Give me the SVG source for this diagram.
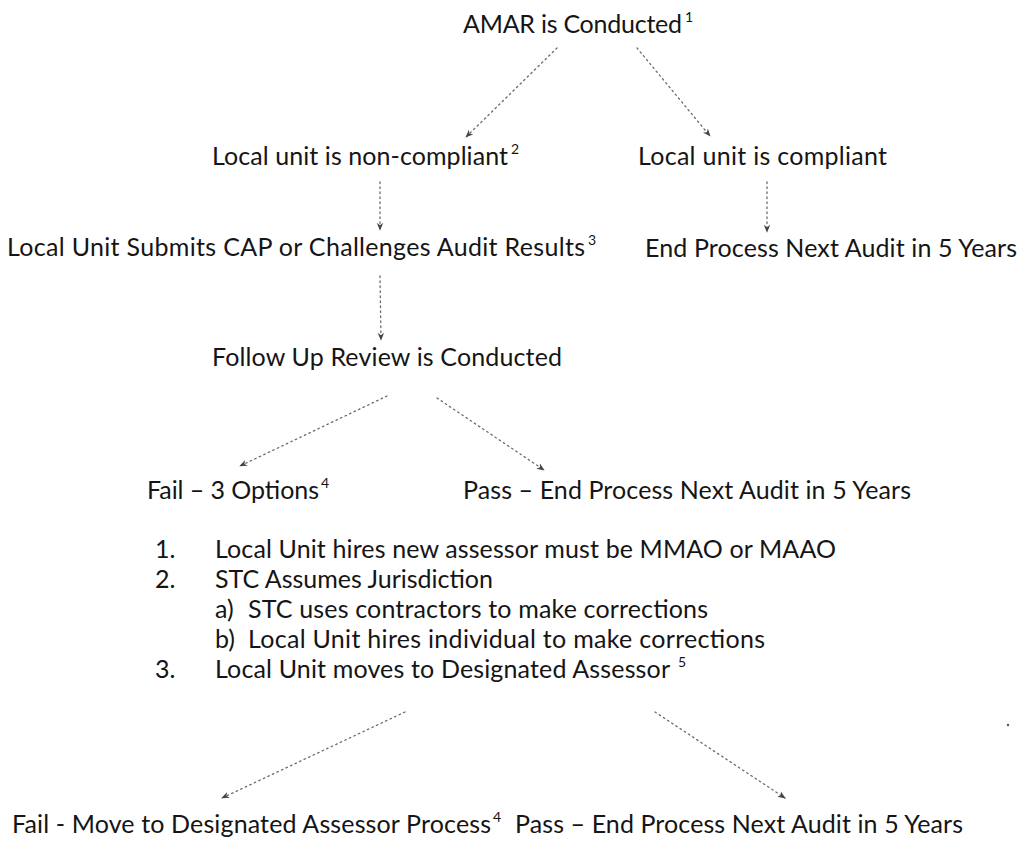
<svg xmlns="http://www.w3.org/2000/svg" width="1021" height="846" viewBox="0 0 1021 846">
<defs>
<style>
text{font-family:Lato,"Open Sans","Liberation Sans",sans-serif;fill:#151515}
.t{font-size:25px}
.s{font-size:14px}
.c{fill:none;stroke:#6a6a6a;stroke-width:1.3;stroke-dasharray:1.5 3.5;stroke-linecap:round}
</style>
<marker id="ah" viewBox="0 0 10 10" refX="9" refY="5" markerWidth="8" markerHeight="8" markerUnits="userSpaceOnUse" orient="auto">
<path d="M0,1 L10,5 L0,9 L3,5 Z" fill="#444"/>
</marker>
</defs>
<rect width="1021" height="846" fill="#fff"/>
<g id="connectors">
<line class="c" x1="557" y1="48" x2="466" y2="137" marker-end="url(#ah)"/>
<line class="c" x1="637" y1="48" x2="710" y2="136" marker-end="url(#ah)"/>
<line class="c" x1="380" y1="182" x2="380" y2="230" marker-end="url(#ah)"/>
<line class="c" x1="767" y1="182" x2="767" y2="232" marker-end="url(#ah)"/>
<line class="c" x1="380" y1="276" x2="381" y2="340" marker-end="url(#ah)"/>
<line class="c" x1="387" y1="396" x2="240" y2="466" marker-end="url(#ah)"/>
<line class="c" x1="437" y1="398" x2="544" y2="470" marker-end="url(#ah)"/>
<line class="c" x1="405" y1="712" x2="222" y2="798" marker-end="url(#ah)"/>
<line class="c" x1="655" y1="712" x2="785" y2="798" marker-end="url(#ah)"/>
</g>
<g id="n1"><text class="t" x="463" y="33" textLength="219">AMAR is Conducted</text><text class="s" x="685" y="22">1</text></g>
<g id="n2"><text class="t" x="212" y="165" textLength="296">Local unit is non-compliant</text><text class="s" x="511" y="154">2</text></g>
<g id="n3"><text class="t" x="638" y="165" textLength="249">Local unit is compliant</text></g>
<g id="n4"><text class="t" x="7" y="256" textLength="578">Local Unit Submits CAP or Challenges Audit Results</text><text class="s" x="588" y="245">3</text></g>
<g id="n5"><text class="t" x="645" y="257" textLength="372">End Process Next Audit in 5 Years</text></g>
<g id="n6"><text class="t" x="212" y="366" textLength="350">Follow Up Review is Conducted</text></g>
<g id="n7"><text class="t" x="147" y="499" textLength="172">Fail – 3 Options</text><text class="s" x="321" y="488">4</text></g>
<g id="n8"><text class="t" x="463" y="499" textLength="448">Pass – End Process Next Audit in 5 Years</text></g>
<g id="n9">
<text class="t" x="155" y="558">1.</text><text class="t" x="215" y="558" textLength="621">Local Unit hires new assessor must be MMAO or MAAO</text>
<text class="t" x="155" y="588">2.</text><text class="t" x="215" y="588" textLength="278">STC Assumes Jurisdiction</text>
<text class="t" x="215" y="618">a)</text><text class="t" x="248" y="618" textLength="460">STC uses contractors to make corrections</text>
<text class="t" x="215" y="648">b)</text><text class="t" x="248" y="648" textLength="517">Local Unit hires individual to make corrections</text>
<text class="t" x="155" y="678">3.</text><text class="t" x="215" y="678" textLength="455">Local Unit moves to Designated Assessor</text><text class="s" x="678" y="667">5</text>
</g>
<g id="n10"><text class="t" x="12" y="833" textLength="479">Fail - Move to Designated Assessor Process</text><text class="s" x="493" y="822">4</text></g>
<g id="n11"><text class="t" x="515" y="833" textLength="448">Pass – End Process Next Audit in 5 Years</text></g>
<circle cx="1008" cy="725" r="1.2" fill="#555"/>
</svg>
